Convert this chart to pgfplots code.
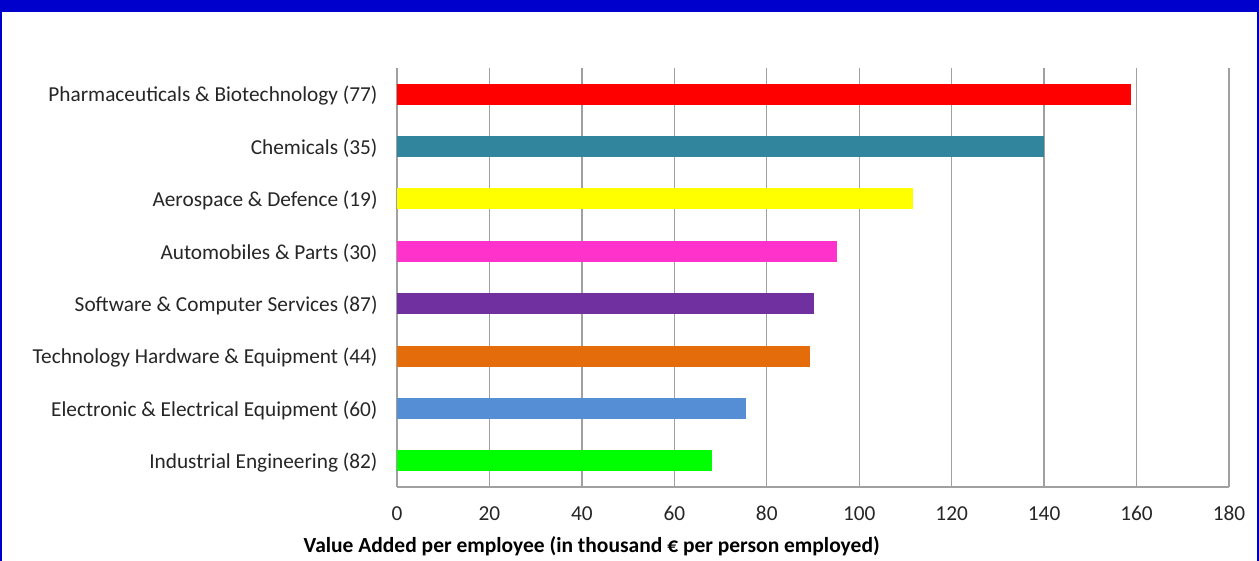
\documentclass[border=0pt]{standalone}
\usepackage{pgfplots}
\pgfplotsset{compat=1.18}
\usepackage{fontspec}
\setmainfont{Carlito}
\definecolor{framebl}{RGB}{0,0,204}
\definecolor{gridc}{RGB}{160,160,160}
\definecolor{cRed}{RGB}{255,0,0}
\definecolor{cTeal}{RGB}{49,133,156}
\definecolor{cYel}{RGB}{255,255,0}
\definecolor{cPink}{RGB}{255,51,204}
\definecolor{cPurp}{RGB}{112,48,160}
\definecolor{cOrg}{RGB}{228,108,10}
\definecolor{cBlue}{RGB}{85,142,213}
\definecolor{cGreen}{RGB}{0,255,0}
\begin{document}
\begin{tikzpicture}[x=1pt,y=1pt]
\useasboundingbox (0,0) rectangle (1259,561);
\fill[white] (0,0) rectangle (1259,561);
\fill[framebl] (0,549) rectangle (1259,561);
\fill[framebl] (0,0) rectangle (1.5,561);
\fill[framebl] (1257,0) rectangle (1259,561);
\begin{axis}[
  at={(397pt,74pt)}, anchor=south west,
  scale only axis, width=832pt, height=419pt,
  xmin=0, xmax=180, ymin=-0.5, ymax=7.5,
  xbar, bar width=21pt, bar shift=0pt,
  axis x line*=bottom, axis y line*=left,
  axis line style={-, gridc, line width=1.3pt},
  xmajorgrids, grid style={gridc, line width=1.3pt},
  xtick={0,20,...,180},
  ytick={0,...,7},
  yticklabels={Industrial Engineering (82),Electronic \& Electrical Equipment (60),Technology Hardware \& Equipment (44),Software \& Computer Services (87),Automobiles \& Parts (30),Aerospace \& Defence (19),Chemicals (35),Pharmaceuticals \& Biotechnology (77)},
  major tick length=0pt,
  tick label style={font=\fontsize{21.3}{25}\selectfont, text=black!85},
  /pgf/number format/assume math mode=true,
  yticklabel style={xshift=-16pt, yshift=-1.5pt},
  xticklabel style={anchor=base, yshift=-34pt},
  xlabel={\textbf{Value Added per employee (in thousand € per person employed)}},
  xlabel style={font=\fontsize{21.5}{25}\selectfont, at={(axis description cs:0.234,0)}, yshift=-59pt, anchor=center},
]
\addplot[fill=cGreen, draw=none] coordinates {(68.2,0)};
\addplot[fill=cBlue, draw=none] coordinates {(75.4,1)};
\addplot[fill=cOrg, draw=none] coordinates {(89.3,2)};
\addplot[fill=cPurp, draw=none] coordinates {(90.2,3)};
\addplot[fill=cPink, draw=none] coordinates {(95.1,4)};
\addplot[fill=cYel, draw=none] coordinates {(111.7,5)};
\addplot[fill=cTeal, draw=none] coordinates {(139.9,6)};
\addplot[fill=cRed, draw=none] coordinates {(158.9,7)};
\end{axis}
\end{tikzpicture}
\end{document}
